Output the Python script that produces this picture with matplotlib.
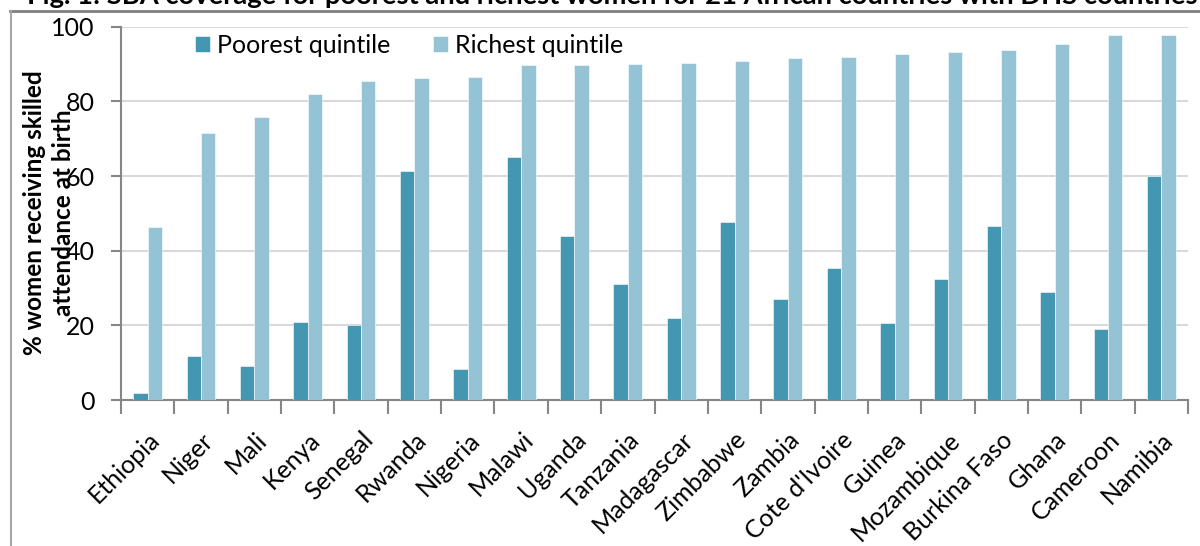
import matplotlib
matplotlib.use('Agg')
import numpy as np
import matplotlib.pyplot as plt
from matplotlib.lines import Line2D

# Skilled birth attendance, poorest vs richest quintile (DHS)
countries = ['Ethiopia', 'Niger', 'Mali', 'Kenya', 'Senegal', 'Rwanda',
             'Nigeria', 'Malawi', 'Uganda', 'Tanzania', 'Madagascar',
             'Zimbabwe', 'Zambia', "Cote d'Ivoire", 'Guinea', 'Mozambique',
             'Burkina Faso', 'Ghana', 'Cameroon', 'Namibia']
poorest = [2.0, 11.7, 9.0, 21.0, 20.0, 61.4, 8.3, 65.1, 44.0, 31.2,
           21.9, 47.6, 27.0, 35.3, 20.7, 32.3, 46.7, 29.0, 19.1, 59.9]
richest = [46.3, 71.4, 75.8, 82.0, 85.5, 86.3, 86.4, 89.7, 89.8, 89.9,
           90.3, 90.7, 91.7, 92.0, 92.6, 93.2, 93.7, 95.4, 97.8, 97.9]
yticks = [0, 20, 40, 60, 80, 100]

plt.rcParams['font.family'] = ['Lato', 'DejaVu Sans']

c_poor = '#4397b0'
c_rich = '#93c3d5'
grey = '#868686'

fig = plt.figure(figsize=(12, 5.46), dpi=100)
ax = fig.add_axes([121/1200, 1 - 400/546, 1067/1200, 373.3/546])

x = np.arange(len(countries))
w = 0.27
ax.bar(x - w/2, poorest, w, color=c_poor, edgecolor='white', linewidth=0.4,
       label='Poorest quintile', zorder=3)
ax.bar(x + w/2, richest, w, color=c_rich, edgecolor='white', linewidth=0.4,
       label='Richest quintile', zorder=3)

ax.set_xlim(-0.5, len(countries) - 0.5)
ax.set_ylim(0, 100)
ax.set_yticks(yticks)
ax.set_yticklabels([str(v) for v in yticks], fontsize=18)
ax.yaxis.grid(True, color='#d9d9d9', linewidth=1.5, zorder=0)
ax.set_axisbelow(True)

ax.set_xticks(x)
ax.set_xticklabels(countries, rotation=45, ha='right', va='top',
                   rotation_mode='anchor', fontsize=18)
ax.set_xticks(np.arange(len(countries) + 1) - 0.5, minor=True)
ax.tick_params(axis='x', which='major', length=0, pad=20)
ax.tick_params(axis='x', which='minor', length=10, width=1.5, color=grey)
ax.tick_params(axis='y', length=7, width=1.5, color=grey, pad=12)

for s in ['top', 'right']:
    ax.spines[s].set_visible(False)
for s in ['left', 'bottom']:
    ax.spines[s].set_color(grey)
    ax.spines[s].set_linewidth(1.5)

ax.legend(loc='center left', bbox_to_anchor=(0.069, 0.95), ncol=2,
          frameon=False, fontsize=18, handlelength=0.6, handleheight=0.6,
          handletextpad=0.3, columnspacing=1.7, borderpad=0, borderaxespad=0)

fig.text(49/1200, 1 - 213/546, '% women receiving skilled\nattendance at birth',
         rotation=90, ha='center', va='center', multialignment='center',
         fontsize=17.5, fontweight='bold', linespacing=1.35)

# clipped figure caption and outer frame
fig.text(27/1200, 1 - 4/546,
         'Fig. 1: SBA coverage for poorest and richest women for 21 African '
         'countries with DHS countries',
         ha='left', va='baseline', fontsize=19.7, fontweight='bold')
fig.add_artist(Line2D([10/1200, 1], [1 - 10.5/546, 1 - 10.5/546],
                      color='#7f7f7f', linewidth=2, transform=fig.transFigure))
fig.add_artist(Line2D([11/1200, 11/1200], [0, 1 - 10.5/546],
                      color='#a6a6a6', linewidth=1.5, transform=fig.transFigure))

fig.savefig('out.png', dpi=100)
